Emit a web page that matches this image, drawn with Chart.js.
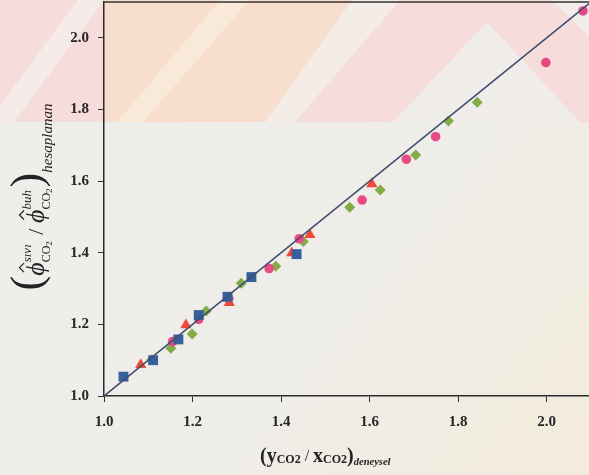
<!DOCTYPE html>
<html>
<head>
<meta charset="utf-8">
<script src="https://cdn.jsdelivr.net/npm/chart.js@4.4.1/dist/chart.umd.min.js"></script>
<style>
  html, body { margin: 0; padding: 0; background: #eeede9; overflow: hidden; }
  #wrap { width: 600px; height: 475px; }
</style>
</head>
<body>
<div id="wrap"><canvas id="chart" width="600" height="475"></canvas></div>
<script>
// deneysel (x) ve hesaplanan (y) oranlar, her işaret tipi ayrı bir seri
const squareX = [1.044, 1.111, 1.168, 1.214, 1.279, 1.333, 1.435];
const squareY = [1.054, 1.100, 1.158, 1.226, 1.277, 1.332, 1.396];

const triangleX = [1.083, 1.185, 1.283, 1.424, 1.465, 1.605];
const triangleY = [1.087, 1.198, 1.260, 1.399, 1.450, 1.592];

const circleX = [1.155, 1.214, 1.282, 1.373, 1.441, 1.583, 1.683, 1.749, 1.998, 2.082];
const circleY = [1.152, 1.214, 1.272, 1.356, 1.439, 1.547, 1.661, 1.724, 1.931, 2.075];

const diamondX = [1.108, 1.151, 1.199, 1.231, 1.310, 1.388, 1.450, 1.555, 1.624, 1.704, 1.778, 1.843];
const diamondY = [1.101, 1.133, 1.173, 1.237, 1.315, 1.362, 1.431, 1.527, 1.575, 1.673, 1.768, 1.820];

// y = x doğrusu
const parityX = [1.0, 2.1];
const parityY = [1.0, 2.1];

const tickValues = [1.0, 1.2, 1.4, 1.6, 1.8, 2.0];
const axisMin = 1.0, axisMax = 2.1;

const pts = (xs, ys) => xs.map((x, i) => ({ x, y: ys[i] }));

const SERIF = '"Liberation Serif", "Times New Roman", serif';

// soluk arka plan deseni (taranmış sayfadaki filigran)
const backdrop = {
  id: 'backdrop',
  beforeDraw(chart) {
    const ctx = chart.ctx, W = chart.width, H = chart.height;
    const left = chart.chartArea.left;
    const band = 122;
    const poly = (color, p) => {
      ctx.fillStyle = color;
      ctx.beginPath();
      ctx.moveTo(p[0], p[1]);
      for (let i = 2; i < p.length; i += 2) ctx.lineTo(p[i], p[i + 1]);
      ctx.closePath();
      ctx.fill();
    };
    ctx.save();
    const g = ctx.createLinearGradient(0, 0, W, H);
    g.addColorStop(0, '#eeeeec');
    g.addColorStop(0.6, '#efede8');
    g.addColorStop(1, '#f3ecdb');
    ctx.fillStyle = g;
    ctx.fillRect(0, 0, W, H);

    ctx.beginPath();
    ctx.rect(0, 0, W, band);
    ctx.clip();
    ctx.fillStyle = '#f6dcdb';
    ctx.fillRect(0, 0, W, band);
    poly('#f8dfcd', [left, 0, 352, 0, 265, band, left, band]);
    poly('#f5ece9', [-12, band, 14, band, 104, 0, 78, 0]);
    poly('#f8e9d8', [117, band, 143, band, 250, 0, 220, 0]);
    poly('#f4ece6', [265, band, 295, band, 400, 0, 352, 0]);
    poly('#f0ecea', [393, band, 487, 22, 580, band]);
    poly('#f2ede9', [552, 0, W, 0, W, 48]);
    ctx.restore();
  },
  afterDraw(chart) {
    const ctx = chart.ctx, a = chart.chartArea;
    ctx.save();
    ctx.strokeStyle = '#333';
    ctx.lineWidth = 1.5;
    ctx.beginPath();
    ctx.moveTo(a.left, a.top);
    ctx.lineTo(a.right, a.top);
    ctx.lineTo(a.right, a.bottom);
    ctx.stroke();
    ctx.restore();
  }
};

// eksen başlıkları: alt/üst simgeli metin elle yazılıyor
function phiHat(ctx, u, w) {
  const c = u + w * 0.6;
  ctx.beginPath();
  ctx.moveTo(c - 4.5, -20);
  ctx.lineTo(c, -24.5);
  ctx.lineTo(c + 4.5, -20);
  ctx.lineWidth = 1.2;
  ctx.stroke();
}

function yTitle(ctx, draw) {
  let u = 0;
  const put = (text, font, v) => {
    ctx.font = font;
    if (draw) ctx.fillText(text, u, v);
    const w = ctx.measureText(text).width;
    u += w;
    return w;
  };
  const phiBlock = (sup) => {
    const u0 = u;
    const w = put('ϕ', 'italic 26px ' + SERIF, 0);
    if (draw) phiHat(ctx, u0, w);
    const s0 = u;
    put(sup, 'italic 13px ' + SERIF, -13);
    const supEnd = u;
    u = s0;
    put('CO', '12px ' + SERIF, 6);
    put('2', '9px ' + SERIF, 8);
    u = Math.max(u, supEnd) + 1;
  };
  put('(', '44px ' + SERIF, -3);
  phiBlock('sıvı');
  put(' / ', '22px ' + SERIF, -1);
  phiBlock('buh');
  put(')', '44px ' + SERIF, -3);
  put('hesaplanan', 'italic 15px ' + SERIF, 8);
  return u;
}

function xTitle(ctx) {
  let u = 0;
  const put = (text, font, v) => {
    ctx.font = font;
    ctx.fillText(text, u, v);
    u += ctx.measureText(text).width;
  };
  put('(', 'bold 20px ' + SERIF, 0);
  put('y', 'bold 20px ' + SERIF, 0);
  put('CO2', 'bold 12px ' + SERIF, 1);
  put(' / ', '16px ' + SERIF, -1);
  put('x', 'bold 20px ' + SERIF, 0);
  put('CO2', 'bold 12px ' + SERIF, 1);
  put(')', 'bold 20px ' + SERIF, 0);
  put('deneysel', 'bold italic 10.5px ' + SERIF, 3);
}

const titles = {
  id: 'titles',
  afterDraw(chart) {
    const ctx = chart.ctx;
    ctx.save();
    ctx.fillStyle = '#222';
    ctx.strokeStyle = '#222';
    ctx.textBaseline = 'alphabetic';
    ctx.textAlign = 'left';
    const len = yTitle(ctx, false);
    const yc = (chart.chartArea.top + chart.chartArea.bottom) / 2 - 2;
    ctx.translate(44, yc + len / 2);
    ctx.rotate(-Math.PI / 2);
    yTitle(ctx, true);
    ctx.restore();

    ctx.save();
    ctx.fillStyle = '#222';
    ctx.textBaseline = 'alphabetic';
    ctx.translate(260, 462);
    xTitle(ctx);
    ctx.restore();
  }
};

const axis = (fixSize, pad) => ({
  type: 'linear',
  min: axisMin,
  max: axisMax,
  afterBuildTicks: s => { s.ticks = tickValues.map(v => ({ value: v })); },
  afterFit: fixSize,
  grid: { drawOnChartArea: false, drawTicks: true, tickLength: 6, color: '#333', lineWidth: 1 },
  border: { display: true, color: '#2b2b2b', width: 1.5 },
  ticks: {
    padding: pad,
    color: '#262626',
    font: { family: SERIF, size: 15, weight: 'bold' },
    callback: v => v.toFixed(1)
  }
});

const marker = (label, data, style, radius, color) => ({
  type: 'scatter',
  label,
  data,
  pointStyle: style,
  pointRadius: radius,
  pointHoverRadius: radius,
  pointBackgroundColor: color,
  pointBorderColor: color,
  pointBorderWidth: 0,
  clip: false
});

new Chart(document.getElementById('chart'), {
  data: {
    datasets: [
      {
        type: 'line',
        label: 'y = x',
        data: pts(parityX, parityY),
        borderColor: '#3f4d6e',
        borderWidth: 1.6,
        pointRadius: 0,
        fill: false
      },
      marker('kare', pts(squareX, squareY), 'rect', 7, '#36609c'),
      marker('üçgen', pts(triangleX, triangleY), 'triangle', 6.5, '#ef4a38'),
      marker('daire', pts(circleX, circleY), 'circle', 4.8, '#e94a86'),
      marker('baklava', pts(diamondX, diamondY), 'rectRot', 5.5, '#84ac46')
    ]
  },
  options: {
    responsive: false,
    animation: false,
    layout: { autoPadding: false, padding: { top: 2, right: 9, left: 0, bottom: 0 } },
    plugins: { legend: { display: false }, tooltip: { enabled: false } },
    scales: {
      x: axis(s => { s.height = 79; s.paddingLeft = 0; s.paddingRight = 0; }, 11),
      y: axis(s => { s.width = 104; s.paddingTop = 0; s.paddingBottom = 0; }, 9)
    }
  },
  plugins: [backdrop, titles]
});
</script>
</body>
</html>
